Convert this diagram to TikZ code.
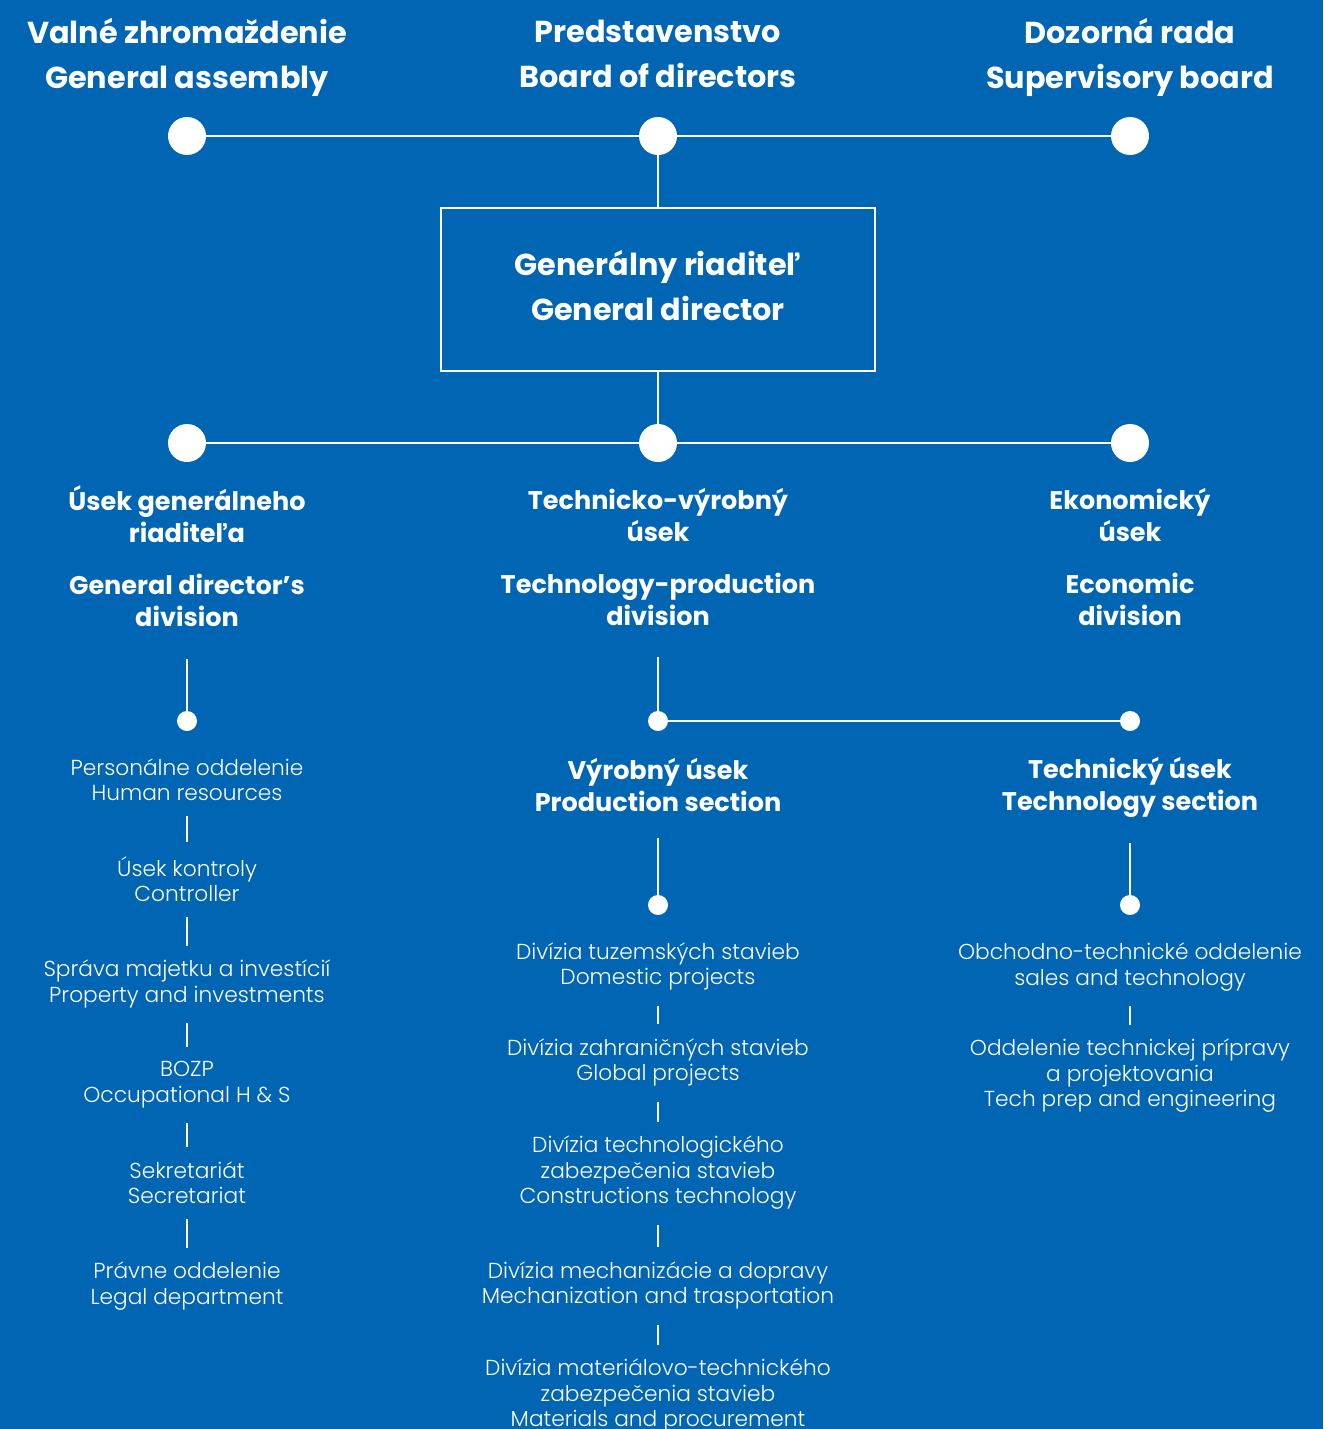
\documentclass[tikz,border=0pt]{standalone}
\usepackage{fontspec}
\setmainfont{Poppins}[UprightFont=* Light, BoldFont=* Bold]
\definecolor{orgblue}{RGB}{0,101,179}

\begin{document}
\begin{tikzpicture}[x=1pt, y=-1pt,
    every node/.style={text=white, align=center, inner sep=0pt},
    headtext/.style={font=\bfseries\fontsize{30.3}{45}\selectfont},
    divtext/.style={font=\bfseries\fontsize{25.5}{32}\selectfont},
    unittext/.style={font=\fontsize{21.7}{25.5}\selectfont},
    bigdot/.style={draw=none, circle, fill=white, minimum size=38pt},
    smalldot/.style={draw=none, circle, fill=white, minimum size=20pt},
    link/.style={draw=white, line width=1.3pt},
    gap/.style={link, shorten <=15pt, shorten >=14pt}
  ]

  \clip (0,0) rectangle (1323,1429);
  \fill[orgblue] (0,0) rectangle (1323,1429);

  % top level
  \node[headtext] (GAlab) at (187,57) {Valné zhromaždenie\\General assembly};
  \node[headtext] (BDlab) at (658,54) {Predstavenstvo\\Board of directors};
  \node[headtext] (SBlab) at (1130,57) {Dozorná rada\\Supervisory board};

  \node[bigdot] (GA) at (187,136) {};
  \node[bigdot] (BD) at (658,136) {};
  \node[bigdot] (SB) at (1130,136) {};

  \node[headtext, draw=white, line width=1.3pt, minimum width=434pt, minimum height=163pt] (GD) at (658,289.5) {};
  \node[headtext] (GDlab) at (658,286) {Generálny riaditeľ\\General director};

  % divisions
  \node[bigdot] (GDD) at (187,443) {};
  \node[bigdot] (TPD) at (658,443) {};
  \node[bigdot] (ECD) at (1130,443) {};

  \node[divtext] (GDDlab) at (187,556) {Úsek generálneho\\riaditeľa\\[20pt]General director’s\\division};
  \node[divtext] (TPDlab) at (658,557) {Technicko-výrobný\\úsek\\[20pt]Technology-production\\division};
  \node[divtext] (ECDlab) at (1130,557) {Ekonomický\\úsek\\[20pt]Economic\\division};

  \node[smalldot] (GDDdot) at (187,721) {};
  \node[smalldot] (TPDdot) at (658,721) {};
  \node[smalldot] (TSdot) at (1130,721) {};

  % general director's division
  \node[unittext] (HR) at (187,779.5) {Personálne oddelenie\\Human resources};
  \node[unittext] (CTRL) at (187,879) {Úsek kontroly\\Controller};
  \node[unittext] (PROP) at (187,984) {Správa majetku a investícií\\Property and investments};
  \node[unittext] (BOZP) at (187,1084.5) {BOZP\\Occupational H \& S};
  \node[unittext] (SECR) at (187,1182.5) {Sekretariát\\Secretariat};
  \node[unittext] (LEG) at (187,1286) {Právne oddelenie\\Legal department};

  % sections
  \node[divtext] (PSlab) at (658,785) {Výrobný úsek\\Production section};
  \node[divtext] (TSlab) at (1130,787) {Technický úsek\\Technology section};

  \node[smalldot] (PSdot) at (658,905) {};
  \node[smalldot] (TSsub) at (1130,905) {};

  \node[unittext] (DOM) at (658,966.5) {Divízia tuzemských stavieb\\Domestic projects};
  \node[unittext] (GLOB) at (658,1062.5) {Divízia zahraničných stavieb\\Global projects};
  \node[unittext] (CTECH) at (658,1173) {Divízia technologického\\zabezpečenia stavieb\\Constructions technology};
  \node[unittext] (MECH) at (658,1285.5) {Divízia mechanizácie a dopravy\\Mechanization and trasportation};
  \node[unittext] (MAT) at (658,1395.5) {Divízia materiálovo-technického\\zabezpečenia stavieb\\Materials and procurement};

  \node[unittext] (SALES) at (1130,967) {Obchodno-technické oddelenie\\sales and technology};
  \node[unittext] (PREP) at (1130,1076) {Oddelenie technickej prípravy\\a projektovania\\Tech prep and engineering};

  % connectors
  \draw[link] (GA) -- (BD) -- (SB);
  \draw[link] (BD) -- (GD);
  \draw[link] (GD) -- (TPD);
  \draw[link] (GDD) -- (TPD) -- (ECD);
  \draw[link, shorten <=32pt] (GDDlab) -- (GDDdot);
  \draw[link, shorten <=31pt] (TPDlab) -- (TPDdot);
  \draw[link] (TPDdot) -- (TSdot);
  \draw[link, shorten <=26pt] (PSlab) -- (PSdot);
  \draw[link, shorten <=26pt] (TSlab) -- (TSsub);

  \draw[gap] (HR) -- (CTRL);
  \draw[gap] (CTRL) -- (PROP);
  \draw[gap] (PROP) -- (BOZP);
  \draw[gap] (BOZP) -- (SECR);
  \draw[gap] (SECR) -- (LEG);

  \draw[gap] (DOM) -- (GLOB);
  \draw[gap] (GLOB) -- (CTECH);
  \draw[gap] (CTECH) -- (MECH);
  \draw[gap] (MECH) -- (MAT);

  \draw[gap] (SALES) -- (PREP);

\end{tikzpicture}
\end{document}
